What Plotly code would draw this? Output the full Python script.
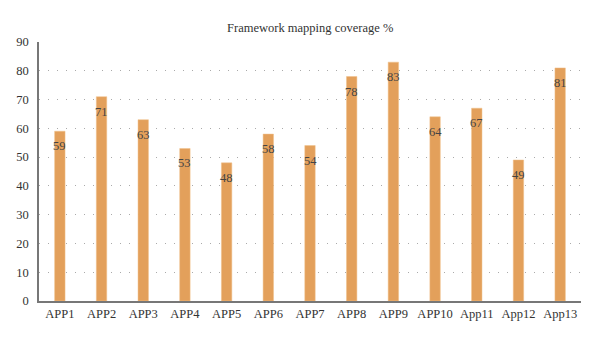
import plotly.graph_objects as go

categories = ["APP1", "APP2", "APP3", "APP4", "APP5", "APP6", "APP7", "APP8", "APP9", "APP10", "App11", "App12", "App13"]
values = [59, 71, 63, 53, 48, 58, 54, 78, 83, 64, 67, 49, 81]
y_ticks = [0, 10, 20, 30, 40, 50, 60, 70, 80, 90]

font_family = "Liberation Serif, DejaVu Serif, serif"

fig = go.Figure()
fig.add_trace(go.Bar(
    x=categories, y=values,
    marker=dict(color="#E3A05B", line=dict(color="#F0C08A", width=0.5)),
    width=0.25,
    hoverinfo="x+y",
))
for c, v in zip(categories, values):
    fig.add_annotation(x=c, y=v, text=str(v), showarrow=False, yshift=-15,
                       font=dict(family=font_family, size=12.5, color="#444444"))

fig.update_layout(
    width=600, height=341,
    margin=dict(l=39, r=19, t=42, b=40),
    paper_bgcolor="white", plot_bgcolor="white",
    title=dict(text="Framework mapping coverage %", x=0.517, xanchor="center", y=0.92, yanchor="middle",
               font=dict(family=font_family, size=12.5, color="#333333")),
    font=dict(family=font_family, size=12.5, color="#333333"),
    showlegend=False,
    xaxis=dict(showline=True, linecolor="#777777", linewidth=1.5, showgrid=False,
               ticks="", tickfont=dict(family=font_family, size=12.5, color="#333333")),
    yaxis=dict(range=[0, 90], tickvals=y_ticks, showline=True, linecolor="#777777", linewidth=1.5,
               showgrid=True, gridcolor="#AAAAAA", griddash="1px,8px", gridwidth=1,
               zeroline=False, ticks="", ticklabelstandoff=6,
               tickfont=dict(family=font_family, size=12.5, color="#333333")),
)

fig.write_html("out.html")
